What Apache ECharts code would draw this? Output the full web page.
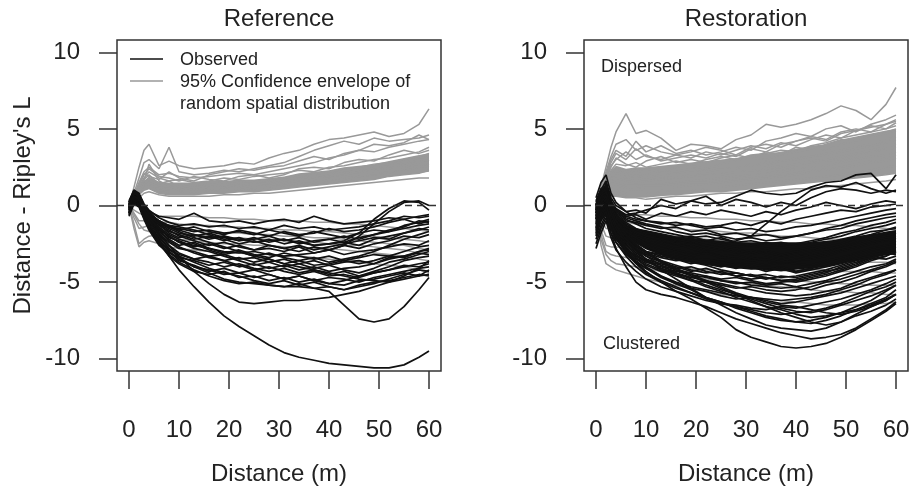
<!DOCTYPE html>
<html><head><meta charset="utf-8">
<script src="https://cdn.jsdelivr.net/npm/echarts@6/dist/echarts.min.js"></script>
<style>html,body{margin:0;padding:0;background:#fff}#c{width:912px;height:486px}</style>
</head><body><div id="c"></div>
<script>
// ---------- data ----------
const distance = [0,1,2,3,4, 6,8,10,13,16, 19,22,25,28,31, 34,37,40,43,46, 49,52,55,58,60];
const xTicks = [0,10,20,30,40,50,60];
const yTicks = [-10,-5,0,5,10];
const panelTitles = ['Reference','Restoration'];

// Reference: upper part of the 95% envelopes (grey)
const refEnvUpper = [
 [0,1.2,2.5,3.6,4.0, 2.6,2.9,2.6,2.4,2.5, 2.6,2.8,2.7,3.1,3.4, 3.6,4.0,4.3,4.4,4.6, 4.8,4.5,4.7,5.3,6.3],
 [0,0.8,1.8,2.8,3.0, 2.4,3.8,2.2,2.0,2.1, 2.3,2.2,2.4,2.6,2.8, 3.2,3.6,3.9,4.2,4.0, 4.4,4.2,4.3,4.4,4.6],
 [0,0.6,1.5,2.2,2.5, 2.0,2.1,1.9,1.8,1.9, 2.0,2.1,2.0,2.2,2.4, 2.6,2.8,3.1,3.3,3.6, 3.5,3.8,4.0,4.2,4.3],
 [0,0.5,1.2,1.8,2.2, 1.8,1.6,1.7,1.5,1.6, 1.8,1.7,1.9,2.0,2.1, 2.3,2.2,2.5,2.6,2.8, 3.0,3.1,3.3,3.5,3.8],
 [0,0.4,1.0,1.5,1.8, 1.5,1.4,1.3,1.4,1.3, 1.5,1.6,1.5,1.7,1.8, 2.0,2.1,2.2,2.4,2.5, 2.7,2.8,3.0,3.2,3.4],
 [0,0.3,0.8,1.2,1.5, 1.2,1.1,1.2,1.0,1.1, 1.2,1.3,1.4,1.3,1.5, 1.6,1.8,1.9,2.0,2.2, 2.3,2.5,2.6,2.8,3.0],
 [0,0.4,0.9,1.3,1.4, 1.0,0.9,0.9,0.8,0.9, 1.0,1.0,1.1,1.2,1.3, 1.4,1.5,1.6,1.8,1.9, 2.0,2.2,2.3,2.5,2.7],
 [0,0.3,0.7,1.0,1.1, 0.8,0.7,0.7,0.7,0.8, 0.8,0.9,0.9,1.0,1.1, 1.2,1.3,1.4,1.5,1.6, 1.7,1.9,2.0,2.1,2.3],
 [0,0.2,0.5,0.8,0.9, 0.7,0.6,0.6,0.6,0.6, 0.7,0.7,0.8,0.8,0.9, 1.0,1.1,1.2,1.3,1.4, 1.5,1.6,1.7,1.8,1.8],
 [0,0.5,1.3,2.0,2.4, 1.9,1.8,1.6,1.9,1.7, 1.6,1.9,2.0,1.8,2.0, 2.4,2.5,2.4,2.8,3.0, 2.9,3.3,3.6,3.4,3.6],
 [0,0.6,1.4,2.1,1.9, 1.7,2.2,1.8,1.6,2.0, 2.2,2.4,2.3,2.5,2.6, 2.9,3.2,3.0,3.4,3.6, 4.0,3.9,4.1,4.6,4.3],
 [0,0.3,0.9,1.4,1.7, 1.3,1.2,1.4,1.2,1.4, 1.3,1.5,1.6,1.5,1.7, 1.8,2.0,1.9,2.1,2.3, 2.4,2.6,2.9,3.1,3.2],
 [0,0.5,1.1,1.7,2.0, 1.4,1.6,1.2,1.5,1.2, 1.4,1.2,1.5,1.4,1.6, 1.9,1.7,2.0,2.3,2.1, 2.5,2.4,2.7,3.0,2.9],
 [0,0.4,1.0,1.6,2.7, 1.6,1.3,1.0,1.2,1.0, 1.1,1.0,1.2,1.1,1.3, 1.5,1.4,1.7,1.6,1.9, 2.1,2.0,2.4,2.6,2.5]
];
const refCoreLow  = [0,0.3,0.7,1.0,1.1, 0.8,0.7,0.7,0.7,0.8, 0.8,0.9,0.9,1.0,1.1, 1.2,1.3,1.4,1.5,1.6, 1.7,1.9,2.0,2.1,2.2];
const refCoreHigh = [0,0.5,1.1,1.6,1.9, 1.5,1.5,1.5,1.5,1.6, 1.6,1.7,1.7,1.8,1.9, 2.1,2.2,2.3,2.5,2.6, 2.7,2.9,3.1,3.3,3.4];
// Reference: lower part of the envelopes (grey)
const refEnvLower = [
 [0,-0.3,-0.5,-0.6,-0.6, -0.7,-0.7,-0.7,-0.7,-0.8, -0.8,-0.9,-0.9,-1.0,-1.0, -1.0,-1.1,-1.1,-1.2,-1.2, -1.3,-1.4,-1.5,-1.6,-1.7],
 [0,-0.8,-1.5,-1.4,-1.3, -1.3,-1.4,-1.5,-1.6,-1.7, -1.8,-1.8,-1.9,-1.9,-2.0, -2.0,-2.1,-2.1,-2.2,-2.3, -2.4,-2.5,-2.6,-2.8,-2.9],
 [0,-1.2,-2.5,-2.2,-2.0, -1.9,-2.0,-2.2,-2.3,-2.4, -2.5,-2.5,-2.6,-2.6,-2.7, -2.7,-2.8,-2.8,-2.9,-3.0, -3.1,-3.2,-3.3,-3.5,-3.6],
 [0,-0.5,-1.0,-1.0,-1.0, -1.1,-1.1,-1.2,-1.3,-1.3, -1.4,-1.4,-1.5,-1.5,-1.6, -1.6,-1.7,-1.7,-1.8,-1.9, -2.0,-2.1,-2.2,-2.3,-2.4],
 [0,-1.5,-2.7,-2.4,-2.3, -2.5,-2.7,-2.8,-2.9,-3.0, -3.1,-3.1,-3.2,-3.2,-3.3, -3.3,-3.4,-3.5,-3.6,-3.7, -3.8,-3.9,-4.0,-4.2,-4.4],
 [0,-0.6,-1.2,-1.6,-1.7, -1.6,-1.7,-1.8,-1.9,-2.0, -2.1,-2.1,-2.2,-2.2,-2.3, -2.4,-2.4,-2.5,-2.6,-2.6, -2.7,-2.8,-2.9,-3.1,-3.2]
];
// Reference: observed (black)
const refObserved = [
 [0.0,0.9,0.6,-0.2,-0.7, -1.3,-1.7,-1.9,-2.2,-2.0, -2.3,-2.1,-2.4,-2.2,-2.5, -2.3,-2.6,-2.5,-2.4,-2.6, -2.2,-2.0,-1.8,-1.6,-1.4],
 [-0.3,0.6,0.3,-0.5,-1.0, -1.8,-2.4,-2.8,-3.0,-3.3, -3.2,-3.5,-3.4,-3.7,-3.5, -3.8,-3.6,-3.9,-3.7,-3.6, -3.8,-3.4,-3.3,-3.0,-2.8],
 [0.1,0.7,0.5,-0.1,-0.5, -1.0,-1.4,-1.5,-1.7,-1.6, -1.8,-1.7,-1.9,-1.6,-1.8, -2.0,-1.7,-1.9,-2.1,-1.8, -1.6,-1.7,-1.3,-1.1,-0.9],
 [-0.5,0.4,0.2,-0.6,-1.3, -2.2,-3.0,-3.5,-4.0,-4.2, -4.5,-4.4,-4.7,-4.5,-4.8, -4.6,-4.9,-4.7,-4.8,-5.0, -4.7,-4.5,-4.3,-4.1,-4.0],
 [-0.2,0.8,0.5,-0.3,-0.8, -1.5,-2.1,-2.3,-2.7,-2.5, -2.8,-2.6,-2.9,-2.8,-3.0, -2.7,-3.1,-2.9,-3.2,-3.0, -2.9,-2.7,-2.5,-2.6,-2.3],
 [-0.6,0.3,0.1,-0.7,-1.4, -2.4,-3.2,-3.7,-4.2,-4.6, -4.9,-5.1,-5.0,-5.2,-5.3, -5.1,-5.4,-5.3,-5.5,-5.2, -5.0,-4.9,-4.7,-4.5,-4.6],
 [0.3,1.0,0.8,0.1,-0.3, -0.8,-1.1,-1.3,-1.2,-1.4, -1.3,-1.5,-1.4,-1.6,-1.3, -1.5,-1.4,-1.6,-1.5,-1.4, -1.2,-1.0,-0.7,-0.8,-0.7],
 [-0.1,0.5,0.4,-0.4,-0.9, -1.7,-2.2,-2.6,-2.4,-2.8, -3.1,-2.9,-3.2,-3.4,-3.1, -3.3,-3.5,-3.3,-3.6,-3.4, -3.2,-3.3,-3.0,-2.7,-2.6],
 [-0.4,0.2,0.0,-0.8,-1.5, -2.5,-3.3,-3.8,-4.3,-4.5, -4.3,-4.7,-4.6,-4.9,-4.7, -5.0,-4.8,-5.1,-4.9,-4.6, -4.4,-4.2,-4.0,-3.8,-3.7],
 [0.2,0.9,0.7,0.0,-0.4, -1.1,-1.5,-1.8,-2.0,-1.8, -2.1,-2.3,-2.1,-2.4,-2.2, -2.5,-2.3,-2.2,-2.4,-2.1, -1.9,-1.7,-1.5,-1.3,-1.2],
 [-0.7,0.1,-0.1,-0.9,-1.6, -2.6,-3.1,-3.4,-3.6,-3.9, -3.7,-4.0,-3.8,-4.1,-3.9, -4.2,-4.0,-4.3,-4.1,-4.0, -3.8,-3.5,-3.3,-3.1,-3.2],
 [0.0,0.6,0.5,-0.2,-0.6, -1.2,-1.6,-2.0,-2.3,-2.6, -2.4,-2.7,-2.9,-2.6,-2.8, -3.0,-2.7,-2.9,-2.6,-2.8, -2.5,-2.3,-2.0,-2.1,-1.9],
 [-0.3,0.4,0.3,-0.5,-1.1, -1.9,-2.6,-3.1,-3.5,-3.7, -4.0,-3.8,-4.1,-4.3,-4.1, -4.4,-4.2,-4.5,-4.3,-4.6, -4.3,-4.0,-3.6,-3.4,-3.3],
 [0.1,0.8,0.6,-0.1,-0.6, -1.2,-1.8,-2.1,-1.9,-2.2, -2.0,-2.3,-2.2,-2.0,-2.3, -2.1,-2.4,-2.2,-2.0,-2.2, -1.9,-1.6,-1.4,-1.0,-1.1],
 [-0.5,0.3,0.2,-0.6,-1.2, -2.1,-2.8,-3.3,-3.7,-4.1, -4.4,-4.6,-4.9,-5.1,-4.9, -5.2,-5.0,-5.3,-5.5,-5.3, -5.1,-4.8,-4.5,-4.2,-4.3],
 [0.0,0.7,0.4,-0.3,-0.8, -1.4,-1.9,-2.2,-2.5,-2.9, -3.2,-3.0,-3.3,-3.1,-3.4, -3.6,-3.4,-3.7,-3.5,-3.3, -3.0,-2.6,-2.2,-1.9,-1.7],
 [-0.2,0.5,0.3,-0.4,-1.0, -1.6,-2.0,-2.4,-2.8,-3.0, -3.3,-3.6,-3.9,-3.7,-4.0, -3.8,-4.1,-3.9,-4.2,-4.4, -4.1,-3.7,-3.5,-3.2,-3.0],
 [0.2,0.8,0.6,-0.2,-0.5, -1.1,-1.3,-1.6,-1.4,-1.7, -1.9,-1.6,-1.8,-2.0,-1.7, -1.9,-1.8,-1.5,-1.7,-1.6, -1.4,-1.1,-0.9,-1.2,-1.0],
 [-0.4,0.2,0.1,-0.7,-1.3, -2.3,-3.0,-3.6,-3.9,-4.3, -4.1,-4.4,-4.2,-4.5,-4.8, -4.6,-4.9,-5.1,-5.2,-4.9, -4.8,-4.6,-4.4,-4.6,-4.2],
 [-0.1,0.6,0.4,-0.3,-0.9, -1.6,-2.3,-2.7,-3.1,-3.4, -3.6,-3.4,-3.7,-3.5,-3.8, -3.6,-3.9,-3.8,-3.6,-3.8, -3.6,-3.3,-3.4,-3.0,-2.9],
 [0.2,1.0,0.7,0.0,-0.4, -0.7,-0.8,-0.9,-0.5,-1.0, -1.1,-1.0,-1.2,-1.0,-0.9, -1.1,-0.7,-1.0,-1.2,-1.1, -1.0,-0.8,-0.9,-0.7,-0.6],
 [0.1,0.9,0.7,0.0,-0.5, -1.0,-1.3,-1.4,-1.6,-1.9, -2.2,-2.5,-2.3,-2.6,-2.8, -2.6,-2.9,-2.7,-2.5,-2.3, -2.1,-2.2,-1.8,-1.5,-1.6],
 [-0.6,0.2,0.0,-0.8,-1.4, -2.3,-2.9,-3.2,-3.5,-3.3, -3.6,-3.9,-4.2,-4.0,-4.3, -4.5,-4.3,-4.6,-4.5,-4.7, -4.4,-4.2,-3.9,-4.0,-3.8],
 [0.0,0.6,0.5,-0.2,-0.7, -1.2,-1.4,-1.7,-2.1,-2.4, -2.7,-3.0,-3.3,-3.5,-3.8, -4.0,-4.2,-4.4,-4.6,-4.8, -4.9,-5.0,-4.6,-4.1,-3.6],
 [-0.3,0.5,0.3,-0.5,-1.2, -2.3,-3.3,-4.2,-5.3,-6.3, -7.2,-7.9,-8.5,-9.1,-9.6, -9.9,-10.1,-10.3,-10.4,-10.5, -10.6,-10.6,-10.4,-9.9,-9.5],
 [-0.2,0.6,0.4,-0.3,-0.9, -1.8,-2.6,-3.3,-4.3,-5.1, -5.8,-6.3,-6.4,-6.3,-6.2, -6.2,-6.1,-6.0,-5.8,-5.6, -5.3,-5.0,-4.8,-4.6,-4.5],
 [-0.4,0.3,0.5,-0.4,-1.0, -2.0,-2.8,-3.4,-4.0,-4.4, -4.8,-5.0,-5.1,-5.2,-5.3, -5.3,-5.4,-5.6,-6.5,-7.4, -7.6,-7.4,-6.6,-5.5,-4.7],
 [-0.5,0.2,0.4,-0.3,-0.8, -1.5,-2.0,-2.4,-2.6,-2.8, -3.0,-3.1,-3.0,-3.2,-3.3, -3.2,-3.1,-2.9,-2.6,-2.0, -1.2,-0.4,0.2,0.3,0.0],
 [-0.2,0.8,0.6,0.0,-0.5, -1.0,-1.4,-1.6,-1.9,-2.1, -2.0,-2.2,-2.4,-2.3,-2.2, -2.4,-2.6,-2.5,-2.3,-1.8, -0.9,-0.2,0.3,0.2,-0.3]
];

// Restoration: upper envelopes (grey)
const resEnvUpper = [
 [0,1.2,2.5,3.8,4.8, 6.0,4.7,4.9,4.4,3.6, 4.0,3.9,3.7,4.3,4.6, 5.3,5.1,5.3,5.6,6.0, 6.5,6.2,5.6,6.6,7.7],
 [0,1.0,2.0,3.0,3.6, 3.2,4.2,3.5,3.9,3.4, 3.6,3.3,3.5,3.8,3.6, 4.2,4.4,4.7,4.5,5.0, 5.2,4.8,5.3,5.6,5.9],
 [0,0.9,1.8,2.6,3.0, 3.5,3.0,3.3,2.9,3.1, 3.3,3.1,3.4,3.2,3.7, 3.5,4.0,4.2,4.4,4.2, 4.7,4.9,5.1,5.3,5.6],
 [0,0.8,1.6,2.3,2.7, 2.6,2.8,2.5,2.7,2.9, 2.7,3.0,3.2,3.0,3.3, 3.4,3.6,3.5,3.9,4.1, 4.4,4.6,4.8,5.0,5.2],
 [0,0.7,1.5,2.1,2.4, 2.2,2.3,2.4,2.2,2.5, 2.6,2.4,2.7,2.9,3.1, 3.0,3.3,3.5,3.7,3.6, 4.0,4.2,4.5,4.7,4.9],
 [0,0.6,1.3,1.9,2.1, 1.9,2.0,1.8,2.0,2.1, 2.3,2.2,2.4,2.5,2.6, 2.8,2.9,3.1,3.2,3.4, 3.6,3.8,4.0,4.3,4.5],
 [0,0.5,1.1,1.6,1.8, 1.6,1.5,1.6,1.7,1.8, 1.9,2.0,2.1,2.2,2.3, 2.4,2.6,2.7,2.9,3.0, 3.2,3.4,3.6,3.8,4.0],
 [0,0.5,1.0,1.4,1.5, 1.3,1.3,1.3,1.4,1.5, 1.6,1.7,1.8,1.9,2.0, 2.1,2.2,2.4,2.5,2.6, 2.8,3.0,3.2,3.3,3.5],
 [0,0.4,0.9,1.2,1.3, 1.1,1.0,1.1,1.1,1.2, 1.3,1.4,1.5,1.6,1.7, 1.8,1.9,2.0,2.2,2.3, 2.4,2.6,2.8,2.9,3.1],
 [0,0.3,0.7,1.0,1.0, 0.8,0.8,0.8,0.9,1.0, 1.0,1.1,1.2,1.3,1.4, 1.5,1.6,1.7,1.8,1.9, 2.0,2.2,2.3,2.5,2.6],
 [0,0.3,0.6,0.8,0.8, 0.6,0.6,0.6,0.7,0.7, 0.8,0.9,0.9,1.0,1.1, 1.2,1.3,1.4,1.5,1.6, 1.7,1.8,1.9,2.0,2.1],
 [0,0.2,0.5,0.6,0.6, 0.5,0.5,0.4,0.5,0.6, 0.6,0.7,0.8,0.8,0.9, 0.9,1.0,1.1,1.1,1.2, 1.3,1.4,1.5,1.6,1.7],
 [0,0.9,1.9,2.8,3.4, 3.0,3.7,3.2,3.0,3.3, 3.1,3.5,3.3,3.6,3.9, 3.7,4.1,3.9,4.3,4.6, 4.4,4.9,5.2,5.0,5.4],
 [0,0.8,1.7,2.5,3.1, 2.7,2.5,2.9,3.2,2.8, 3.0,2.8,3.1,3.3,3.1, 3.5,3.3,3.8,3.6,4.0, 4.3,4.1,4.6,4.8,5.0],
 [0,0.6,1.4,2.0,2.3, 2.0,2.2,2.0,2.3,2.2, 2.4,2.3,2.5,2.4,2.7, 2.6,2.9,3.0,3.2,3.3, 3.5,3.7,3.9,4.1,4.3],
 [0,0.5,1.2,1.7,1.9, 1.7,1.8,1.7,1.9,1.8, 2.0,2.1,2.0,2.2,2.3, 2.2,2.4,2.6,2.7,2.9, 3.0,3.2,3.5,3.6,3.8],
 [0,0.4,0.9,1.3,1.4, 1.2,1.2,1.3,1.3,1.4, 1.5,1.5,1.6,1.7,1.8, 1.9,2.0,2.1,2.3,2.4, 2.5,2.7,2.9,3.1,3.3],
 [0,1.1,2.2,3.2,4.0, 4.3,3.6,3.9,3.5,3.3, 3.5,3.8,3.6,3.3,3.8, 4.0,3.8,4.2,4.5,4.3, 4.8,5.0,4.8,5.3,5.5]
];
const resCoreLow  = [0,0.2,0.5,0.6,0.6, 0.5,0.5,0.5,0.6,0.7, 0.8,0.9,0.9,1.0,1.1, 1.2,1.3,1.4,1.5,1.6, 1.7,1.8,1.9,2.0,2.1];
const resCoreHigh = [0,0.8,1.6,2.3,2.6, 2.4,2.5,2.5,2.6,2.7, 2.8,2.9,3.0,3.1,3.3, 3.4,3.5,3.7,3.9,4.0, 4.3,4.5,4.7,4.9,5.0];
// Restoration: lower envelopes (grey)
const resEnvLower = [
 [0,-0.4,-0.6,-0.6,-0.6, -0.6,-0.6,-0.6,-0.7,-0.7, -0.8,-0.8,-0.9,-0.9,-1.0, -1.0,-1.1,-1.1,-1.2,-1.2, -1.3,-1.3,-1.4,-1.5,-1.6],
 [0,-0.9,-1.5,-1.5,-1.5, -1.6,-1.7,-1.8,-1.9,-2.0, -2.1,-2.2,-2.3,-2.4,-2.5, -2.5,-2.6,-2.7,-2.8,-2.8, -2.9,-2.9,-3.0,-3.0,-3.1],
 [0,-1.6,-2.6,-2.7,-2.7, -2.8,-2.9,-3.0,-3.2,-3.3, -3.5,-3.6,-3.7,-3.8,-3.9, -4.0,-4.0,-4.1,-4.2,-4.2, -4.3,-4.3,-4.3,-4.4,-4.4],
 [0,-2.2,-3.2,-3.6,-3.8, -3.9,-4.0,-4.1,-4.3,-4.5, -4.6,-4.8,-4.9,-5.0,-5.1, -5.2,-5.3,-5.4,-5.5,-5.6, -5.6,-5.7,-5.7,-5.8,-5.8],
 [0,-1.2,-2.0,-2.1,-2.2, -2.3,-2.4,-2.5,-2.6,-2.7, -2.8,-2.9,-3.0,-3.1,-3.2, -3.3,-3.4,-3.4,-3.5,-3.6, -3.6,-3.7,-3.7,-3.7,-3.8],
 [0,-2.6,-3.8,-4.0,-4.2, -4.4,-4.6,-4.8,-5.0,-5.2, -5.4,-5.6,-5.8,-5.9,-6.0, -6.1,-6.2,-6.3,-6.4,-6.5, -6.5,-6.5,-6.4,-6.4,-6.3],
 [0,-0.6,-1.0,-1.0,-1.0, -1.1,-1.2,-1.3,-1.4,-1.5, -1.6,-1.6,-1.7,-1.8,-1.8, -1.9,-2.0,-2.0,-2.1,-2.2, -2.2,-2.3,-2.4,-2.4,-2.5],
 [0,-1.9,-3.0,-3.2,-3.3, -3.4,-3.5,-3.6,-3.8,-4.0, -4.1,-4.2,-4.3,-4.4,-4.6, -4.7,-4.8,-4.9,-5.0,-5.0, -5.1,-5.1,-5.2,-5.2,-5.2]
];
// Restoration: observed (black); dense core edges
const resObsCoreHigh = [-0.4,-0.2,-0.2,-0.5,-0.8, -1.3,-1.5,-1.6,-1.8,-2.0, -2.1,-2.2,-2.3,-2.4,-2.4, -2.4,-2.4,-2.4,-2.4,-2.3, -2.2,-2.0,-1.9,-1.7,-1.6];
const resObsCoreLow  = [-0.7,-0.5,-0.3,-0.8,-1.3, -2.1,-2.5,-2.8,-3.2,-3.5, -3.7,-3.9,-4.0,-4.1,-4.2, -4.2,-4.3,-4.2,-4.1,-4.0, -3.8,-3.6,-3.4,-3.2,-3.0];
const resObserved = [
 [-0.2,0.8,1.2,0.3,-0.2, -0.6,-0.5,-0.3,0.0,-0.2, 0.3,0.1,0.2,0.6,1.0, 0.8,0.7,0.8,1.2,1.5, 1.6,2.0,2.1,1.1,2.0],
 [0.0,1.0,1.6,0.5,0.0, -0.4,-0.3,-0.5,0.4,0.1, 0.3,0.6,0.0,0.4,0.2, -0.1,0.2,0.0,0.5,0.9, 1.1,1.0,0.8,1.0,0.9],
 [-0.5,0.5,1.0,0.0,-0.6, -1.2,-1.6,-1.8,-2.0,-2.3, -2.4,-2.6,-2.5,-2.3,-2.0, -1.2,-0.4,0.3,1.0,1.3, 1.2,1.5,1.1,0.8,1.0],
 [-0.3,0.6,1.4,0.2,-0.3, -0.7,-0.6,-0.9,-0.5,-0.7, -0.4,-0.6,-0.3,-0.5,-0.7, -0.4,-0.6,-0.3,-0.1,0.2, 0.0,-0.2,0.1,0.3,0.2],
 [0.5,1.5,2.0,0.8,0.2, -0.4,-0.8,-1.0,-1.1,-1.3, -1.2,-1.4,-1.3,-1.1,-1.3, -1.0,-1.2,-0.9,-0.7,-0.5, -0.3,-0.4,-0.1,0.0,0.1],
 [-0.5,0.4,0.6,-0.4,-1.0, -1.6,-2.0,-2.3,-2.6,-2.9, -3.1,-3.0,-3.3,-3.5,-3.4, -3.6,-3.8,-3.6,-3.5,-3.3, -3.0,-2.8,-2.5,-2.3,-2.1],
 [-1.0,0.0,0.3,-0.8,-1.5, -2.3,-2.8,-3.2,-3.6,-3.9, -4.2,-4.4,-4.3,-4.6,-4.8, -4.7,-4.9,-5.0,-4.8,-4.6, -4.3,-4.0,-3.6,-3.3,-3.0],
 [0.2,1.0,1.2,0.2,-0.4, -0.9,-1.2,-1.5,-1.7,-1.9, -2.1,-2.0,-2.2,-2.4,-2.3, -2.5,-2.4,-2.6,-2.4,-2.2, -2.0,-1.7,-1.5,-1.3,-1.1],
 [-1.5,-0.5,0.0,-1.2,-1.9, -2.8,-3.3,-3.7,-4.0,-4.3, -4.5,-4.7,-4.9,-5.0,-5.2, -5.3,-5.4,-5.3,-5.5,-5.2, -5.0,-4.7,-4.3,-4.0,-3.7],
 [-0.3,0.6,0.9,-0.2,-0.7, -1.3,-1.7,-1.9,-2.2,-2.4, -2.6,-2.9,-2.7,-3.0,-3.2, -3.0,-3.3,-3.1,-3.4,-3.2, -2.9,-2.7,-2.4,-2.2,-2.4],
 [-0.8,0.2,0.5,-0.6,-1.2, -2.0,-2.6,-3.0,-3.3,-3.5, -3.8,-3.6,-3.9,-4.1,-3.9, -4.2,-4.0,-4.3,-4.1,-3.9, -3.7,-3.4,-3.1,-2.9,-2.7],
 [0.0,0.9,1.1,0.0,-0.5, -1.0,-1.1,-1.3,-1.5,-1.4, -1.7,-1.6,-1.9,-1.8,-2.0, -1.9,-2.1,-2.0,-1.8,-1.6, -1.5,-1.2,-1.0,-0.8,-0.7],
 [-1.2,-0.3,0.2,-1.0,-1.7, -2.5,-3.1,-3.5,-3.8,-4.1, -4.0,-4.3,-4.5,-4.4,-4.6, -4.8,-4.6,-4.7,-4.5,-4.3, -4.1,-3.8,-3.4,-3.2,-3.1],
 [-0.4,0.5,0.8,-0.3,-0.9, -1.5,-1.9,-2.1,-2.4,-2.7, -2.5,-2.8,-3.0,-2.8,-3.1, -2.9,-3.2,-3.0,-2.8,-2.9, -2.6,-2.3,-2.1,-1.8,-1.9],
 [-2.0,-1.0,-0.5,-1.5,-2.2, -3.0,-3.5,-3.9,-4.3,-4.6, -4.9,-5.0,-5.2,-5.4,-5.3, -5.5,-5.6,-5.5,-5.3,-5.0, -4.8,-4.5,-4.2,-3.9,-3.6],
 [0.3,1.1,1.3,0.3,-0.3, -0.7,-0.9,-1.0,-1.2,-1.1, -1.3,-1.5,-1.4,-1.6,-1.5, -1.7,-1.6,-1.4,-1.3,-1.1, -0.9,-0.7,-0.5,-0.3,-0.2],
 [-0.6,0.3,0.7,-0.5,-1.1, -1.8,-2.3,-2.7,-3.0,-3.2, -3.4,-3.7,-3.5,-3.8,-3.7, -3.9,-3.7,-3.8,-3.9,-3.6, -3.4,-3.1,-2.8,-2.6,-2.5],
 [-1.3,-0.4,0.1,-1.1,-1.8, -2.6,-3.2,-3.6,-4.1,-4.4, -4.7,-4.9,-5.1,-5.3,-5.5, -5.7,-5.8,-5.9,-5.8,-5.6, -5.4,-5.0,-4.7,-4.4,-4.2],
 [-0.1,0.7,1.0,-0.1,-0.6, -1.1,-1.5,-1.7,-2.0,-2.2, -2.4,-2.3,-2.5,-2.7,-2.6, -2.8,-2.7,-2.9,-2.7,-2.5, -2.2,-2.0,-1.7,-1.6,-1.4],
 [-0.9,0.0,0.4,-0.7,-1.3, -2.1,-2.7,-3.1,-3.4,-3.6, -3.5,-3.8,-4.0,-3.8,-4.0, -4.3,-4.1,-4.4,-4.2,-4.0, -3.8,-3.5,-3.3,-3.0,-2.9],
 [-1.7,-0.7,-0.2,-1.3,-2.0, -2.9,-3.4,-3.8,-4.2,-4.5, -4.7,-4.6,-4.9,-5.1,-5.0, -5.2,-5.1,-5.3,-5.1,-4.9, -4.6,-4.3,-4.0,-3.8,-3.5],
 [-0.2,0.6,0.9,-0.2,-0.8, -1.4,-1.8,-2.0,-2.3,-2.5, -2.8,-3.1,-3.3,-3.2,-3.5, -3.4,-3.6,-3.4,-3.2,-3.0, -2.8,-2.5,-2.2,-2.0,-1.8],
 [-2.5,-1.5,-0.8,-1.8,-2.4, -3.2,-3.7,-4.1,-4.6,-5.0, -5.3,-5.5,-5.7,-5.9,-6.0, -6.1,-6.2,-6.1,-6.0,-5.8, -5.5,-5.2,-4.8,-4.5,-4.2],
 [0.1,0.9,1.1,0.1,-0.4, -0.8,-1.0,-1.2,-1.4,-1.7, -1.9,-1.8,-2.0,-2.2,-2.1, -2.3,-2.2,-2.0,-1.8,-1.5, -1.3,-1.0,-0.8,-0.6,-0.5],
 [-0.7,0.2,0.6,-0.5,-1.2, -1.9,-2.4,-2.8,-3.2,-3.4, -3.6,-3.5,-3.7,-3.9,-4.1, -4.0,-4.2,-4.3,-4.1,-3.8, -3.5,-3.2,-2.9,-2.7,-2.6],
 [-1.1,-0.2,0.2,-0.9,-1.6, -2.4,-2.9,-3.3,-3.7,-4.0, -4.3,-4.1,-4.4,-4.6,-4.5, -4.7,-4.9,-4.8,-4.6,-4.4, -4.0,-3.7,-3.4,-3.1,-3.2],
 [-0.4,0.5,0.8,-0.3,-0.8, -1.4,-1.7,-2.0,-2.2,-2.5, -2.3,-2.6,-2.8,-3.1,-2.9, -3.2,-3.4,-3.2,-3.0,-2.7, -2.5,-2.1,-1.9,-1.6,-1.5],
 [-1.8,-0.8,-0.3,-1.4,-2.1, -2.8,-3.3,-3.6,-3.9,-4.2, -4.4,-4.6,-4.8,-4.7,-4.9, -5.1,-5.0,-4.9,-4.7,-4.5, -4.2,-3.9,-3.5,-3.3,-3.0],
 [-0.5,0.4,0.7,-0.4,-1.0, -1.7,-2.1,-2.5,-2.8,-3.0, -3.3,-3.1,-3.4,-3.3,-3.6, -3.5,-3.7,-3.6,-3.3,-3.1, -2.8,-2.6,-2.3,-2.1,-2.0],
 [-0.9,0.1,0.4,-0.7,-1.4, -2.2,-2.7,-3.0,-3.2,-3.5, -3.7,-3.9,-4.2,-4.4,-4.6, -4.5,-4.7,-4.6,-4.4,-4.2, -3.9,-3.6,-3.4,-3.5,-3.3],
 [0.0,0.8,1.0,-0.1,-0.7, -1.2,-1.6,-1.8,-1.9,-2.1, -2.0,-2.3,-2.1,-2.4,-2.6, -2.4,-2.6,-2.5,-2.3,-2.1, -1.8,-1.6,-1.3,-1.1,-0.9],
 [-1.5,-0.6,0.0,-1.2,-2.0, -3.0,-3.7,-4.3,-5.0,-5.6, -6.1,-6.7,-7.3,-8.1,-8.6, -8.9,-9.2,-9.3,-9.2,-9.0, -8.6,-8.1,-7.5,-6.9,-6.4],
 [-2.2,-1.3,-0.6,-1.8,-2.8, -4.0,-5.0,-5.5,-5.8,-6.0, -6.3,-6.6,-7.0,-7.4,-7.7, -8.0,-8.3,-8.5,-8.7,-8.6, -8.4,-8.0,-7.4,-6.8,-6.3],
 [-0.8,0.2,0.6,-0.6,-1.3, -2.2,-2.9,-3.5,-4.2,-4.8, -5.4,-6.0,-6.5,-7.0,-7.4, -7.8,-8.0,-8.1,-8.2,-8.0, -7.6,-7.1,-6.6,-6.2,-5.8],
 [-1.2,-0.3,0.2,-1.0,-1.8, -2.7,-3.4,-4.0,-4.6,-5.1, -5.5,-6.0,-6.3,-6.7,-7.0, -7.3,-7.5,-7.6,-7.5,-7.3, -7.0,-6.6,-6.2,-5.6,-5.2],
 [-0.6,0.3,0.7,-0.4,-1.2, -2.0,-2.6,-3.1,-3.7,-4.2, -4.6,-5.0,-5.4,-5.8,-6.2, -6.6,-7.0,-7.3,-7.6,-7.8, -7.6,-7.2,-6.9,-6.5,-6.1],
 [-1.6,-0.7,-0.1,-1.3,-2.1, -3.1,-3.8,-4.4,-4.9,-5.3, -5.7,-6.1,-6.4,-6.6,-6.8, -7.0,-7.1,-7.0,-6.9,-6.7, -6.4,-6.0,-5.6,-5.3,-5.0],
 [-0.9,0.0,0.4,-0.8,-1.5, -2.4,-3.0,-3.5,-4.1,-4.5, -4.9,-5.3,-5.6,-6.0,-6.3, -6.6,-6.8,-7.1,-7.3,-7.2, -7.0,-6.8,-6.5,-6.1,-5.8],
 [-2.8,-1.8,-1.0,-2.1,-2.9, -3.7,-4.3,-4.8,-5.3,-5.6, -5.9,-6.2,-6.4,-6.5,-6.7, -6.8,-6.6,-6.7,-6.5,-6.3, -6.1,-5.8,-5.5,-5.1,-4.8],
 [-0.3,0.6,0.9,-0.2,-1.0, -1.9,-2.5,-3.0,-3.6,-4.1, -4.5,-4.9,-5.3,-5.7,-6.0, -6.3,-6.5,-6.6,-6.8,-7.0, -7.1,-6.9,-6.6,-6.2,-5.8],
 [-1.4,-0.5,0.1,-1.1,-1.9, -2.9,-3.6,-4.1,-4.7,-5.1, -5.4,-5.6,-5.9,-6.1,-6.0, -6.2,-6.4,-6.3,-6.1,-5.9, -5.7,-5.4,-5.1,-4.8,-4.6],
 [-0.7,0.2,0.6,-0.5,-1.3, -2.2,-2.8,-3.3,-3.9,-4.4, -4.8,-5.2,-5.5,-5.8,-6.1, -6.4,-6.7,-6.9,-7.0,-6.8, -6.5,-6.2,-5.9,-5.5,-5.2],
 [-1.9,-0.9,-0.4,-1.5,-2.4, -3.3,-4.0,-4.5,-5.0,-5.4, -5.7,-6.0,-6.3,-6.6,-6.9, -7.2,-7.4,-7.6,-7.7,-7.5, -7.2,-6.8,-6.4,-6.0,-5.5]
];

// ---------- chart ----------
const FONT = "'Liberation Sans', Arial, Helvetica, sans-serif";
const BLACK = '#111', GREY = '#999', INK = '#222';
const grids = [{left:117, top:40, width:324, height:331}, {left:584, top:40, width:324, height:331}];

function pts(v){ return distance.map((x,i)=>[x, v[i]]); }
function lineSet(sets, color, gi, name, z, w){
  return sets.map(v => ({type:'line', name:name, xAxisIndex:gi, yAxisIndex:gi, data:pts(v),
    symbol:'none', showSymbol:false, silent:true, z:z, lineStyle:{color:color, width:w}}));
}
// dense core of a family of curves, drawn as a filled polygon between two edge curves
function band(lo, hi, gi, color, z){
  return {type:'custom', xAxisIndex:gi, yAxisIndex:gi, silent:true, z:z,
    data: distance.map((x,i)=>[x, lo[i], hi[i]]), encode:{x:0, y:[1,2]},
    renderItem: (params, api) => {
      if (params.dataIndex !== 0) return null;
      const top = distance.map((x,i)=>api.coord([x, hi[i]]));
      const bot = distance.map((x,i)=>api.coord([x, lo[i]])).reverse();
      return {type:'polygon', shape:{points: top.concat(bot)}, style:{fill:color}};
    }};
}
function zeroLine(gi){
  return {type:'line', xAxisIndex:gi, yAxisIndex:gi, data:[], silent:true, z:6,
    markLine:{silent:true, symbol:['none','none'], label:{show:false}, animation:false,
      lineStyle:{color:'#333', width:1.3, type:[7,5]}, data:[{yAxis:0}]}};
}

const xAxes = grids.map((g,i)=>({gridIndex:i, type:'value', min:-2.4, max:62.4,
  axisLine:{show:false, onZero:false}, splitLine:{show:false},
  axisTick:{show:true, length:18, customValues:xTicks, lineStyle:{color:'#333', width:1.5}},
  axisLabel:{customValues:xTicks, margin:47, fontSize:24, color:INK, fontFamily:FONT},
  name:'Distance (m)', nameLocation:'middle', nameGap:91,
  nameTextStyle:{fontSize:24, color:INK, fontFamily:FONT}}));
const yAxes = grids.map((g,i)=>({gridIndex:i, type:'value', min:-10.8, max:10.8,
  axisLine:{show:false, onZero:false}, splitLine:{show:false},
  axisTick:{show:true, length:18, customValues:yTicks, lineStyle:{color:'#333', width:1.5}},
  axisLabel:{customValues:yTicks, margin:37, fontSize:24, color:INK, fontFamily:FONT},
  name: i===0 ? "Distance - Ripley's L" : '', nameLocation:'middle', nameGap:82, nameRotate:90,
  nameTextStyle:{fontSize:24, color:INK, fontFamily:FONT}}));

const series = [].concat(
  [band(refCoreLow, refCoreHigh, 0, GREY, 1)],
  lineSet(refEnvUpper, GREY, 0, '95% envelope', 2, 1.5),
  lineSet(refEnvLower, GREY, 0, '95% envelope', 2, 1.5),
  lineSet(refObserved, BLACK, 0, 'Observed', 4, 1.7),
  [zeroLine(0)],
  [band(resCoreLow, resCoreHigh, 1, GREY, 1)],
  lineSet(resEnvUpper, GREY, 1, '95% envelope', 2, 1.5),
  lineSet(resEnvLower, GREY, 1, '95% envelope', 2, 1.5),
  [band(resObsCoreLow, resObsCoreHigh, 1, BLACK, 3)],
  lineSet(resObserved, BLACK, 1, 'Observed', 4, 1.7),
  [zeroLine(1)]
);

const txt = (s, x, y, size, align) => ({type:'text', x:x, y:y, z:50, silent:true,
  style:{text:s, font:size+'px '+FONT, fill:INK, align:align||'left', verticalAlign:'middle'}});
const graphic = [
  txt(panelTitles[0], 279, 19, 24, 'center'),
  txt(panelTitles[1], 746, 19, 24, 'center'),
  {type:'line', z:50, silent:true, shape:{x1:130, y1:59, x2:163, y2:59}, style:{stroke:BLACK, lineWidth:1.7}},
  {type:'line', z:50, silent:true, shape:{x1:130, y1:81, x2:163, y2:81}, style:{stroke:GREY, lineWidth:1.7}},
  txt('Observed', 180, 60, 18),
  txt('95% Confidence envelope of', 180, 82, 18),
  txt('random spatial distribution', 180, 104, 18),
  txt('Dispersed', 601, 67, 18),
  txt('Clustered', 603, 344, 18)
];

const chart = echarts.init(document.getElementById('c'), null, {renderer:'canvas'});
chart.setOption({
  animation:false,
  backgroundColor:'#fff',
  grid: grids.map(g=>Object.assign({show:true, borderColor:'#333', borderWidth:1.5, backgroundColor:'transparent', outerBoundsMode:'none'}, g)),
  xAxis: xAxes, yAxis: yAxes,
  series: series,
  graphic: graphic
});
</script>
</body></html>
